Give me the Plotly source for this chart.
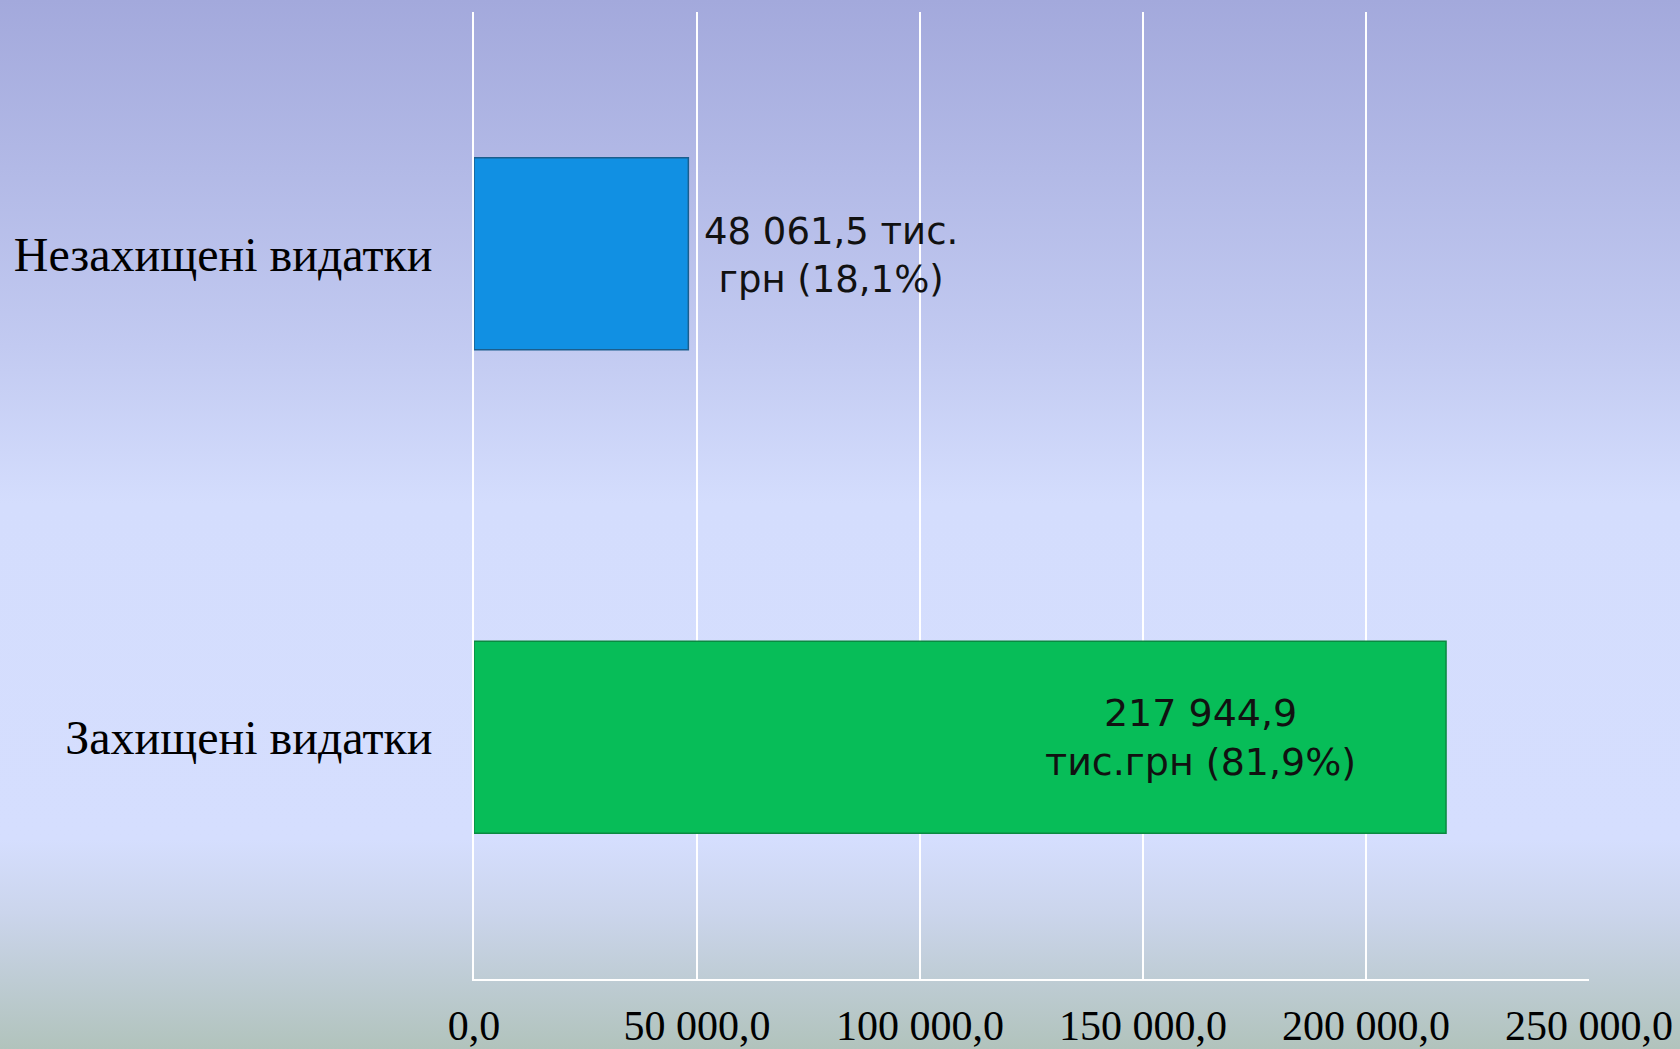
import base64
import plotly.graph_objects as go

# ---- data ----
categories = ["Незахищені видатки", "Захищені видатки"]
values = [48061.5, 217944.9]
value_labels = ["48 061,5 тис.<br>грн (18,1%)", "217 944,9<br>тис.грн (81,9%)"]
bar_colors = ["#1190E3", "#07BD58"]
edge_colors = ["#1B5E8E", "#0A8A40"]
x_ticks = [0, 50000, 100000, 150000, 200000, 250000]

W, H = 1680, 1049
ML, MR, MT, MB = 474, 91, 12, 70

# background gradient as an svg image
svg = f'''<svg xmlns="http://www.w3.org/2000/svg" width="{W}" height="{H}" viewBox="0 0 {W} {H}" preserveAspectRatio="none">
<defs><linearGradient id="g" x1="0" y1="0" x2="0" y2="1">
<stop offset="0" stop-color="#A3A9DC"/>
<stop offset="0.33" stop-color="#C2CAF1"/>
<stop offset="0.48" stop-color="#D4DDFD"/>
<stop offset="0.80" stop-color="#D5DEFE"/>
<stop offset="0.87" stop-color="#CBD5EC"/>
<stop offset="1" stop-color="#B1C3BC"/>
</linearGradient></defs>
<rect x="0" y="0" width="{W}" height="{H}" fill="url(#g)"/></svg>'''
src = "data:image/svg+xml;base64," + base64.b64encode(svg.encode()).decode()

pw = W - ML - MR
ph = H - MT - MB

fig = go.Figure()
fig.add_trace(go.Bar(
    y=categories, x=values, orientation="h",
    marker=dict(color=bar_colors, line=dict(color=edge_colors, width=1.5)),
    hoverinfo="skip", showlegend=False,
))

# value labels
fig.add_annotation(x=values[0], y=categories[0], xref="x", yref="y",
                   text=value_labels[0], showarrow=False, xanchor="left",
                   xshift=14, yshift=-2, align="center",
                   font=dict(family="DejaVu Sans", size=37, color="#111111"))
fig.add_annotation(x=values[1], y=categories[1], xref="x", yref="y",
                   text=value_labels[1], showarrow=False, xanchor="right",
                   xshift=-88, align="center",
                   font=dict(family="DejaVu Sans", size=38, color="#111111"))

fig.add_layout_image(dict(
    source=src, xref="paper", yref="paper",
    x=-ML / pw, y=1 + MT / ph, sizex=W / pw, sizey=H / ph,
    xanchor="left", yanchor="top", sizing="stretch", layer="below",
))

fig.update_layout(
    width=W, height=H,
    margin=dict(l=ML, r=MR, t=MT, b=MB, pad=0),
    paper_bgcolor="#D5DEFE", plot_bgcolor="rgba(0,0,0,0)",
    bargap=0.603,
    separators=", ",
    xaxis=dict(
        range=[0, 250000], tickvals=x_ticks, tickformat=",.1f",
        showgrid=True, gridcolor="#FFFFFF", gridwidth=2,
        zeroline=False, showline=True, linecolor="#FFFFFF", linewidth=2,
        ticks="", ticklabelstandoff=9, automargin=False,
        tickfont=dict(family="Liberation Serif", size=42, color="#000000"),
        fixedrange=True,
    ),
    yaxis=dict(
        autorange="reversed", showgrid=False, zeroline=False,
        showline=True, linecolor="#FFFFFF", linewidth=2,
        ticks="", ticklabelstandoff=30, automargin=False,
        tickfont=dict(family="Liberation Serif", size=48, color="#000000"),
        fixedrange=True,
    ),
)

fig.write_html("out.html", config={"displayModeBar": False},
               post_script="document.body.style.margin='0';document.body.style.overflow='hidden';")
